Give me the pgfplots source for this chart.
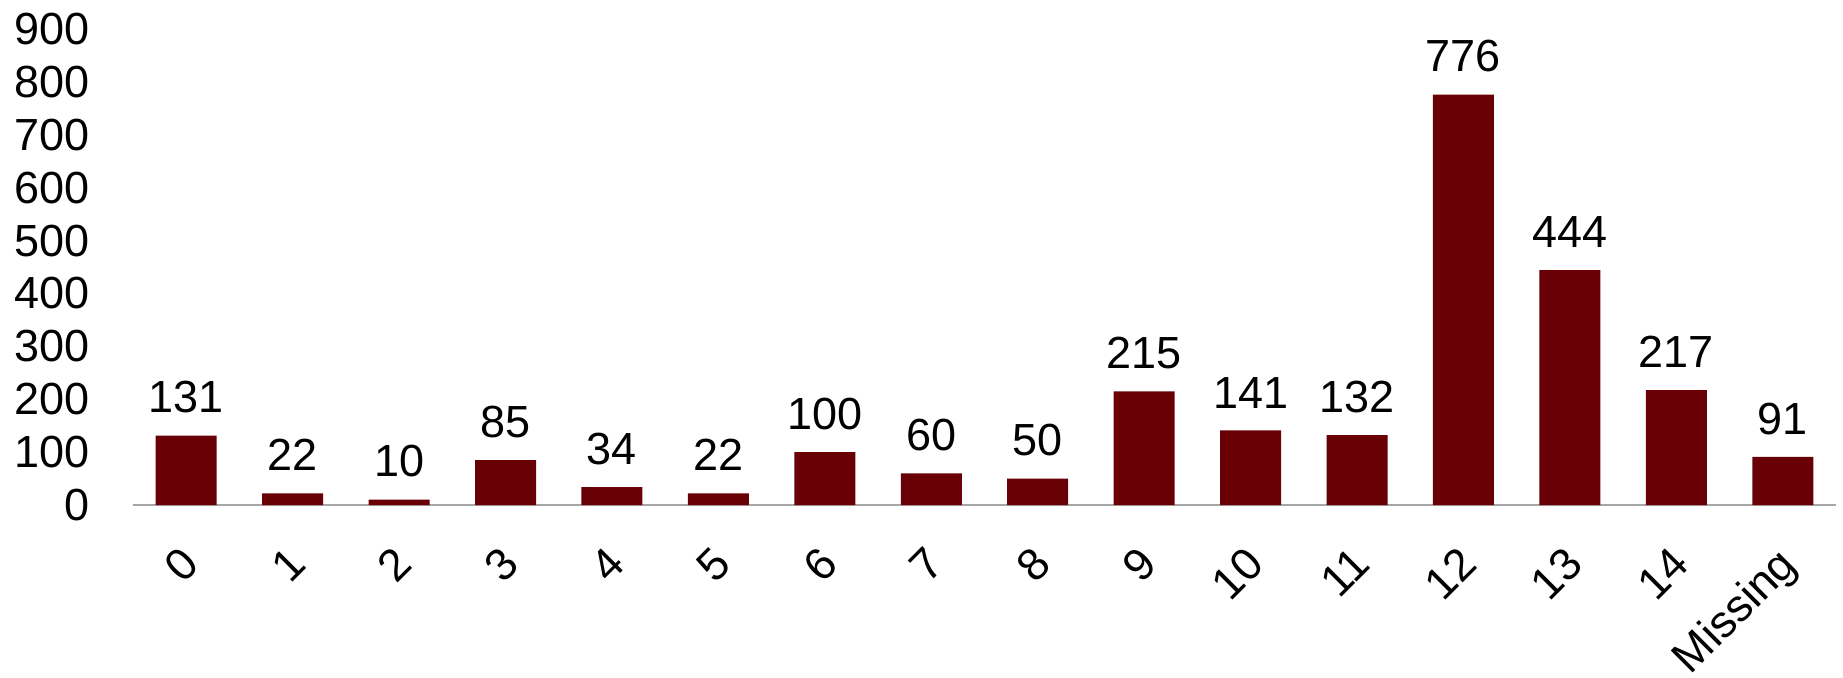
\documentclass[border=0pt]{standalone}
\usepackage{fontspec}
\setmainfont{Liberation Sans}
\usepackage{pgfplots}
\pgfplotsset{compat=1.18}
\definecolor{barred}{HTML}{680005}
\definecolor{axgray}{HTML}{A6A6A6}
\begin{document}
\begin{tikzpicture}
\begin{axis}[
  scale only axis, width=851.5pt, height=238pt,
  xmin=-0.5, xmax=15.5, ymin=0, ymax=900,
  ytick={0,100,...,900},
  xtick={0,...,15},
  xticklabels={0,1,2,3,4,5,6,7,8,9,10,11,12,13,14,Missing},
  axis x line=bottom, axis y line=left,
  axis line style={-},
  y axis line style={draw=none},
  x axis line style={axgray, line width=1pt},
  major tick length=0pt,
  tick style={draw=none},
  /pgf/number format/assume math mode=true,
  ticklabel style={font=\fontsize{22.5}{27}\selectfont},
  yticklabel style={anchor=east, inner sep=0pt, xshift=-21.5pt},
  xticklabel style={inner sep=0pt, text depth=0.21em, anchor=east, xshift=3pt, yshift=-26pt, rotate=45},
  ybar, bar width=30.5pt,
  nodes near coords,
  every node near coord/.append style={font=\fontsize{22.5}{27}\selectfont, anchor=south, inner sep=0pt, yshift=11pt, text=black},
  clip=false,
]
\addplot[fill=barred, draw=none] coordinates {
(0,131) (1,22) (2,10) (3,85) (4,34) (5,22) (6,100) (7,60) (8,50)
(9,215) (10,141) (11,132) (12,776) (13,444) (14,217) (15,91)};
\coordinate (O) at (rel axis cs:0,0);
\end{axis}
\pgfresetboundingbox
\path[use as bounding box] (O) ++(-66.5pt,-86pt) rectangle ++(921.5pt,338.5pt);
\end{tikzpicture}
\end{document}
